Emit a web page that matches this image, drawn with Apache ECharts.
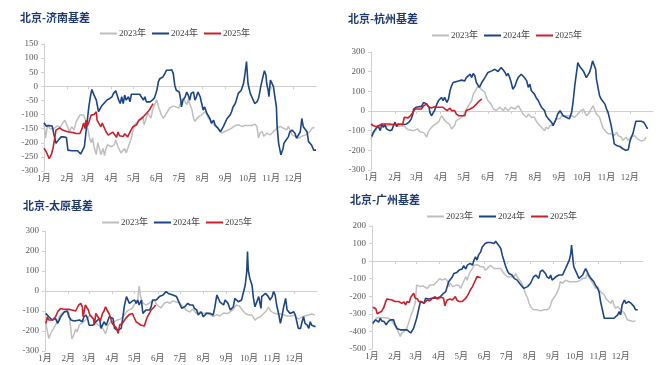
<!DOCTYPE html>
<html><head><meta charset="utf-8">
<script src="https://cdn.jsdelivr.net/npm/echarts@6/dist/echarts.min.js"></script>
<style>html,body{margin:0;padding:0;background:#fff}#c{width:660px;height:365px}</style>
</head><body><div id="c"></div>
<script>
const monthLabels = ['1月','2月','3月','4月','5月','6月','7月','8月','9月','10月','11月','12月'];
const monthStarts = [0,31,59,90,120,151,181,212,243,273,304,334];
const seriesNames = ['2023年','2024年','2025年'];
const titles = ['北京-济南基差','北京-杭州基差','北京-太原基差','北京-广州基差'];
const yRanges = [[-300,150,50],[-300,300,100],[-300,300,100],[-500,200,100]];

// 北京-济南
const jn2023 = [[0,-131],[2,-183],[5,-136],[8,-150],[13,-150],[18,-140],[22,-145],[25,-130],[28,-120],[31,-140],[34,-161],[37,-143],[40,-155],[43,-126],[48,-102],[50,-96],[53,-102],[56,-124],[58,-142],[61,-183],[63,-200],[65,-183],[67,-214],[70,-242],[72,-200],[74,-219],[76,-242],[79,-220],[81,-245],[83,-219],[85,-207],[90,-214],[94,-207],[96,-190],[99,-214],[103,-236],[108,-220],[110,-236],[112,-236],[117,-183],[121,-136],[123,-142],[128,-119],[132,-107],[134,-136],[139,-95],[143,-113],[146,-77],[148,-83],[151,-48],[153,-71],[157,-101],[160,-113],[164,-95],[168,-77],[172,-71],[175,-71],[180,-77],[184,-54],[186,-42],[191,-65],[193,-48],[198,-83],[200,-113],[202,-124],[207,-107],[211,-101],[216,-89],[220,-113],[224,-124],[229,-142],[233,-148],[238,-166],[242,-160],[247,-154],[251,-148],[256,-139],[260,-136],[265,-142],[269,-139],[274,-139],[278,-139],[282,-134],[285,-142],[287,-183],[289,-166],[292,-160],[294,-177],[298,-166],[303,-172],[307,-160],[309,-154],[312,-148],[316,-142],[320,-148],[325,-154],[327,-142],[329,-142],[332,-172],[336,-177],[341,-183],[345,-177],[350,-172],[354,-166],[359,-148],[362,-146]];
const jn2024 = [[0,-129],[3,-141],[7,-139],[11,-141],[13,-167],[16,-202],[20,-188],[23,-179],[26,-179],[30,-181],[32,-226],[37,-228],[41,-228],[45,-228],[49,-240],[51,-247],[54,-214],[57,-143],[60,-73],[62,-37],[64,-11],[67,-31],[70,-49],[73,-90],[74,-84],[77,-70],[81,-58],[84,-49],[88,-43],[91,-37],[93,-25],[96,-16],[98,-11],[100,-49],[102,-61],[104,-37],[106,-61],[108,-31],[110,-49],[113,-37],[115,-55],[117,-28],[119,-31],[124,-28],[128,-28],[130,-23],[133,-49],[135,-37],[137,-55],[139,-61],[142,-55],[145,-49],[148,-40],[151,-14],[153,16],[155,27],[159,33],[162,47],[164,57],[166,59],[168,57],[171,59],[173,45],[175,4],[177,-14],[181,-20],[183,-49],[184,-73],[186,-49],[189,-37],[191,-20],[193,-31],[195,-49],[197,-25],[200,-20],[202,-49],[204,-37],[206,-20],[209,-37],[211,-61],[213,-84],[215,-73],[218,-96],[220,-102],[222,-114],[224,-131],[227,-120],[229,-137],[231,-137],[233,-149],[236,-161],[238,-155],[240,-143],[242,-131],[245,-114],[247,-120],[249,-102],[251,-90],[253,-73],[256,-61],[258,-43],[260,-25],[262,-31],[264,-14],[267,10],[269,45],[271,88],[273,10],[276,-25],[278,-37],[280,-49],[282,-61],[285,-55],[287,-43],[288,-31],[290,-1],[292,22],[294,45],[295,55],[297,40],[298,10],[300,-14],[301,-37],[303,22],[305,17],[307,0],[309,-37],[311,-73],[312,-143],[314,-202],[317,-243],[320,-219],[321,-202],[324,-190],[327,-179],[329,-161],[332,-155],[334,-155],[336,-167],[338,-184],[340,-179],[343,-161],[345,-114],[347,-143],[349,-149],[352,-161],[354,-196],[356,-190],[358,-208],[361,-226],[364,-226]];
const jn2025 = [[0,-219],[3,-232],[7,-256],[10,-240],[12,-220],[14,-190],[16,-155],[18,-148],[21,-147],[25,-155],[30,-160],[34,-162],[39,-164],[43,-167],[48,-167],[51,-149],[53,-130],[55,-150],[56,-120],[58,-140],[60,-128],[63,-102],[65,-96],[67,-100],[70,-90],[71,-120],[73,-115],[76,-143],[78,-130],[80,-143],[83,-161],[86,-173],[88,-168],[92,-162],[95,-173],[97,-181],[99,-162],[101,-175],[103,-168],[106,-178],[108,-168],[110,-175],[112,-179],[115,-162],[119,-143],[124,-136],[127,-120],[130,-115],[133,-108],[137,-96],[141,-84],[144,-70],[146,-61]];

// 北京-杭州
const hz2023 = [[0,-142],[3,-116],[6,-100],[10,-74],[14,-66],[18,-79],[23,-74],[27,-70],[31,-66],[35,-79],[40,-75],[44,-80],[46,-91],[49,-95],[55,-100],[60,-91],[63,-105],[68,-110],[72,-133],[74,-105],[78,-83],[82,-69],[87,-57],[91,-24],[93,-32],[97,-57],[101,-66],[104,-91],[108,-74],[110,-49],[114,-40],[119,-24],[121,-7],[123,-15],[127,35],[130,52],[132,86],[136,111],[138,128],[140,128],[142,111],[147,94],[149,69],[151,52],[153,61],[155,35],[158,10],[160,19],[162,2],[164,10],[166,19],[168,10],[171,2],[173,19],[175,10],[177,2],[179,10],[181,19],[183,22],[186,10],[188,2],[190,27],[192,19],[194,2],[196,-15],[198,-24],[201,-32],[203,-15],[205,-24],[207,-32],[209,-24],[211,-32],[213,-49],[216,-66],[218,-74],[220,-83],[222,-91],[224,-100],[226,-83],[229,-91],[231,-74],[233,-66],[235,-74],[237,-57],[239,-40],[241,-49],[244,-40],[246,-24],[248,-15],[250,-24],[252,-32],[254,-24],[256,-32],[259,-24],[261,-15],[263,-32],[265,-32],[267,-15],[269,-24],[271,2],[274,10],[276,-7],[278,-24],[280,-24],[282,-7],[284,10],[287,27],[289,2],[291,-15],[293,-24],[295,-32],[297,-57],[299,-83],[302,-100],[304,-108],[306,-116],[308,-108],[310,-116],[312,-108],[314,-125],[317,-108],[319,-125],[321,-133],[323,-133],[325,-150],[327,-142],[329,-133],[332,-150],[334,-142],[336,-133],[338,-137],[340,-125],[342,-133],[344,-142],[346,-150],[349,-153],[351,-150],[353,-147],[355,-133]];
const hz2024 = [[1,-130],[3,-108],[6,-91],[9,-74],[12,-100],[14,-66],[16,-83],[18,-69],[20,-91],[24,-100],[27,-96],[29,-74],[31,-57],[33,-79],[35,-66],[37,-57],[40,-69],[43,-69],[46,-66],[49,-57],[52,-40],[54,-15],[55,10],[58,19],[60,19],[62,22],[65,22],[68,44],[72,35],[75,19],[76,-7],[78,-24],[80,-15],[82,2],[85,35],[87,52],[89,44],[91,69],[93,52],[95,69],[98,44],[100,61],[102,103],[104,128],[106,145],[108,153],[113,153],[117,157],[119,162],[121,153],[123,170],[125,179],[128,187],[130,170],[132,191],[134,179],[136,145],[138,153],[140,120],[143,145],[145,137],[147,170],[149,179],[151,196],[153,204],[156,204],[158,196],[160,212],[162,204],[164,201],[166,207],[168,221],[171,207],[173,196],[175,179],[177,191],[179,170],[181,145],[183,111],[186,128],[188,153],[190,170],[192,179],[194,187],[196,196],[198,170],[201,153],[203,120],[205,137],[207,103],[209,94],[211,86],[213,69],[216,52],[218,35],[220,19],[222,19],[224,2],[226,-24],[229,-40],[231,-49],[233,-57],[235,-74],[237,-66],[239,-40],[241,-15],[244,2],[246,-7],[248,-24],[250,-15],[252,-32],[254,-32],[256,-40],[259,-7],[261,52],[263,128],[265,187],[267,246],[269,229],[271,221],[274,204],[276,196],[278,170],[280,170],[282,196],[284,221],[286,255],[287,246],[290,212],[291,162],[293,120],[295,78],[297,61],[299,52],[302,35],[304,10],[306,-7],[308,-40],[310,-74],[312,-116],[314,-167],[317,-175],[319,-184],[321,-180],[323,-184],[325,-192],[327,-192],[329,-200],[332,-197],[334,-158],[336,-133],[338,-116],[340,-116],[341,-66],[342,-52],[344,-52],[349,-52],[352,-57],[354,-69],[357,-91]];
const hz2025 = [[0,-66],[3,-75],[5,-83],[8,-80],[10,-74],[14,-66],[16,-70],[18,-66],[20,-57],[24,-66],[28,-69],[33,-69],[37,-69],[41,-66],[43,-32],[45,-24],[48,-35],[50,-30],[52,-20],[54,-7],[57,10],[59,2],[61,10],[63,5],[65,10],[68,27],[70,20],[72,35],[74,22],[76,22],[78,15],[80,19],[82,22],[85,19],[87,22],[89,19],[91,15],[93,19],[95,19],[98,2],[100,10],[102,15],[104,2],[106,-7],[108,2],[110,-15],[113,-24],[115,-32],[117,-24],[119,-15],[121,-24],[123,2],[125,-7],[128,10],[130,2],[132,19],[134,19],[136,35],[138,44],[140,52],[143,61]];

// 北京-太原
const ty2023 = [[1,-160],[5,-237],[8,-210],[14,-171],[19,-130],[23,-110],[28,-104],[32,-110],[34,-171],[36,-240],[39,-215],[41,-190],[43,-204],[46,-170],[50,-160],[52,-154],[57,-135],[61,-120],[65,-140],[68,-160],[74,-179],[78,-190],[81,-215],[84,-175],[88,-154],[92,-154],[97,-145],[102,-138],[106,-120],[110,-100],[114,-92],[117,-85],[121,-60],[124,-45],[126,25],[128,-30],[131,-60],[135,-70],[139,-62],[142,-55],[146,-45],[150,-70],[155,-85],[160,-60],[164,-55],[167,-62],[171,-50],[176,-55],[180,-60],[185,-80],[189,-95],[194,-105],[198,-90],[202,-112],[207,-105],[212,-112],[216,-108],[221,-118],[225,-128],[230,-118],[234,-125],[239,-110],[245,-112],[251,-95],[256,-70],[258,-60],[260,-75],[265,-100],[269,-115],[273,-120],[277,-120],[281,-146],[284,-135],[288,-130],[292,-115],[296,-100],[299,-80],[302,-100],[306,-110],[311,-115],[315,-115],[320,-120],[324,-125],[330,-125],[333,-120],[337,-135],[340,-140],[344,-130],[348,-125],[352,-120],[357,-115],[361,-120]];
const ty2024 = [[1,-112],[3,-112],[5,-129],[10,-145],[14,-137],[17,-162],[21,-129],[26,-104],[30,-100],[32,-129],[35,-145],[39,-150],[46,-145],[50,-154],[52,-129],[55,-120],[57,-137],[59,-171],[64,-171],[68,-154],[73,-137],[75,-187],[79,-154],[82,-171],[86,-129],[91,-137],[93,-187],[97,-196],[102,-187],[104,-137],[106,-79],[109,-28],[111,-37],[113,-62],[115,-54],[117,-50],[120,-45],[122,-62],[124,-45],[126,-70],[129,-45],[131,-112],[133,-112],[135,-95],[140,-95],[142,-79],[144,-45],[149,-45],[153,-28],[158,-20],[162,-3],[165,-12],[167,-12],[171,-20],[176,-28],[180,-62],[183,-87],[187,-79],[191,-62],[194,-70],[196,-79],[198,-70],[200,-87],[203,-95],[205,-120],[207,-112],[209,-104],[212,-129],[214,-120],[216,-112],[218,-112],[221,-112],[225,-120],[227,-87],[230,-20],[232,-37],[234,-54],[236,-62],[239,-70],[241,-45],[243,-37],[245,-62],[248,-95],[250,-104],[252,-79],[254,-37],[256,-45],[259,-54],[261,-62],[263,-45],[265,-37],[268,30],[270,97],[271,197],[272,105],[274,64],[277,30],[279,-37],[281,-79],[283,-87],[286,-28],[288,-37],[289,-87],[290,-28],[292,-20],[295,-12],[297,-3],[299,-28],[301,-45],[304,-28],[306,-3],[308,-20],[310,-70],[313,-120],[315,-162],[317,-129],[319,-87],[322,-37],[324,-95],[326,-104],[328,-112],[330,-104],[333,-104],[335,-120],[337,-154],[339,-187],[342,-187],[344,-154],[346,-129],[348,-162],[351,-171],[353,-187],[355,-154],[357,-171],[362,-179]];
const ty2025 = [[1,-162],[2,-150],[3,-129],[5,-145],[7,-140],[10,-145],[14,-129],[17,-104],[21,-87],[24,-90],[27,-92],[32,-92],[36,-95],[41,-100],[43,-105],[45,-70],[48,-62],[50,-80],[51,-129],[53,-90],[54,-70],[56,-62],[58,-95],[60,-120],[62,-125],[65,-140],[66,-171],[68,-112],[71,-130],[74,-150],[77,-112],[79,-100],[81,-79],[83,-95],[86,-115],[88,-125],[90,-162],[92,-165],[96,-187],[98,-212],[100,-170],[102,-180],[104,-160],[106,-150],[108,-137],[110,-137],[113,-117],[115,-125],[117,-112],[119,-130],[122,-154],[124,-160],[128,-170],[133,-175],[135,-150],[137,-129],[140,-110],[142,-95],[146,-80],[148,-70]];

// 北京-广州
const gz2023 = [[1,-362],[3,-340],[6,-325],[9,-320],[13,-322],[18,-322],[22,-325],[26,-335],[30,-362],[34,-391],[36,-409],[38,-428],[40,-410],[43,-400],[47,-380],[50,-340],[53,-300],[55,-280],[58,-240],[60,-136],[62,-130],[65,-145],[68,-140],[70,-145],[74,-155],[78,-136],[83,-136],[87,-117],[91,-100],[94,-108],[96,-117],[98,-100],[101,-110],[103,-145],[105,-125],[108,-145],[110,-155],[114,-136],[117,-140],[119,-155],[121,-136],[123,-117],[126,-89],[128,-108],[130,-79],[132,-60],[135,-42],[137,-23],[139,-32],[141,-20],[143,-23],[146,-32],[148,-23],[150,-32],[152,-51],[155,-42],[157,-32],[159,-23],[161,-32],[164,-42],[166,-51],[168,-42],[170,-32],[173,-42],[175,-51],[177,-70],[179,-79],[182,-89],[184,-98],[186,-89],[188,-98],[191,-89],[193,-70],[195,-89],[197,-98],[200,-117],[202,-136],[204,-155],[206,-183],[209,-211],[211,-240],[213,-259],[215,-268],[217,-277],[222,-277],[226,-283],[231,-277],[233,-287],[235,-277],[238,-268],[240,-249],[242,-221],[244,-211],[247,-192],[249,-183],[251,-155],[253,-117],[256,-126],[258,-117],[260,-108],[262,-117],[265,-117],[267,-117],[271,-117],[276,-117],[280,-108],[283,-98],[285,-89],[287,-98],[289,-70],[291,-89],[294,-108],[296,-117],[298,-136],[300,-155],[303,-145],[305,-164],[307,-174],[309,-183],[312,-192],[314,-211],[316,-221],[318,-230],[321,-240],[323,-221],[325,-249],[327,-268],[330,-259],[332,-268],[334,-277],[336,-287],[339,-296],[341,-315],[343,-334],[345,-343],[350,-343],[352,-334],[354,-340]];
const gz2024 = [[1,-353],[3,-343],[5,-334],[9,-347],[11,-325],[13,-340],[16,-343],[19,-362],[22,-343],[25,-334],[29,-334],[31,-362],[34,-385],[38,-391],[43,-391],[47,-391],[52,-409],[54,-415],[56,-381],[60,-325],[63,-268],[65,-230],[67,-221],[70,-240],[72,-211],[74,-221],[76,-215],[78,-211],[81,-211],[83,-202],[87,-211],[92,-202],[96,-183],[99,-174],[101,-145],[103,-117],[105,-108],[108,-89],[110,-70],[112,-70],[114,-64],[117,-51],[119,-51],[121,-45],[123,-26],[126,-45],[128,-23],[130,-32],[132,-13],[135,-23],[137,6],[139,25],[141,6],[143,34],[146,53],[148,81],[150,91],[152,100],[155,106],[157,100],[159,106],[161,109],[164,100],[166,113],[168,109],[170,91],[173,72],[175,34],[177,6],[179,-23],[182,-57],[184,-70],[186,-60],[188,-79],[191,-98],[193,-89],[195,-108],[197,-117],[200,-136],[202,-145],[204,-155],[206,-151],[209,-145],[211,-136],[213,-126],[215,-117],[217,-89],[220,-79],[222,-89],[224,-98],[226,-60],[229,-51],[231,-51],[233,-70],[235,-89],[238,-98],[240,-79],[242,-108],[244,-100],[247,-89],[249,-89],[251,-79],[253,-70],[256,-79],[258,-60],[260,-42],[262,-23],[265,6],[267,43],[268,91],[270,6],[271,-32],[274,-60],[276,-79],[278,-98],[280,-108],[283,-79],[285,-60],[287,-42],[289,-60],[291,-79],[294,-98],[296,-108],[298,-117],[300,-136],[303,-155],[305,-174],[307,-230],[309,-268],[312,-325],[314,-334],[316,-325],[321,-325],[325,-325],[327,-315],[330,-306],[332,-287],[334,-306],[336,-249],[339,-221],[341,-240],[343,-240],[345,-230],[348,-240],[350,-249],[352,-259],[354,-277],[357,-277]];
const gz2025 = [[1,-262],[3,-255],[5,-270],[7,-300],[10,-292],[13,-285],[16,-262],[18,-235],[20,-215],[22,-221],[27,-221],[31,-230],[36,-230],[40,-240],[43,-232],[45,-249],[47,-230],[50,-235],[52,-205],[54,-198],[56,-183],[58,-210],[61,-215],[63,-230],[65,-236],[67,-230],[70,-240],[72,-230],[74,-221],[76,-215],[78,-225],[81,-211],[83,-215],[85,-202],[87,-215],[89,-221],[92,-205],[94,-198],[96,-210],[98,-255],[99,-240],[101,-221],[103,-228],[105,-215],[108,-221],[110,-211],[112,-202],[114,-221],[117,-230],[119,-240],[121,-230],[123,-221],[126,-211],[128,-198],[130,-183],[132,-164],[135,-145],[137,-126],[139,-108],[141,-88],[143,-79],[146,-95]];

const panelData = [[jn2023,jn2024,jn2025],[hz2023,hz2024,hz2025],[ty2023,ty2024,ty2025],[gz2023,gz2024,gz2025]];
const days = Array.from({length:365},(_, i)=>String(i));

// layout
const grids = [
  {left:44, top:44, width:272, height:127},
  {left:371, top:52, width:282, height:118},
  {left:45, top:231, width:272, height:120},
  {left:372, top:226, width:271, height:123}
];
const titlePos = [[20,12],[348,13],[23,200],[350,194]];
const legendPos = [[100,29],[432,31],[102,218],[427,212]];
const colors = ['#BFBFBF','#1B4586','#CC1F2A'];
const widths = [1.5,1.6,1.6];
const axisGray = '#D0D0D0';
const labelGray = '#595959';
const isMonth = (i) => monthStarts.indexOf(i) >= 0;

const option = {animation:false, backgroundColor:'#fff',
  title:[], legend:[], grid:[], xAxis:[], yAxis:[], series:[]};

grids.forEach((g, p) => {
  option.grid.push(Object.assign({containLabel:false}, g));
  option.title.push({text:titles[p], left:titlePos[p][0], top:titlePos[p][1], padding:0,
    textStyle:{fontFamily:'Noto Sans CJK SC', fontSize:11, fontWeight:'bold', color:'#1F3A70'}});
  option.legend.push({data:seriesNames, left:legendPos[p][0], top:legendPos[p][1], padding:0,
    itemWidth:17, itemHeight:2, itemGap:6, icon:'rect',
    textStyle:{fontFamily:'Liberation Serif, Noto Sans CJK SC', fontSize:9, color:'#404040', padding:[0,0,0,-3]}});
  // labelled x axis (bottom)
  option.xAxis.push({type:'category', gridIndex:p, data:days, boundaryGap:false, position:'bottom',
    axisLine:{show:false, onZero:false}, axisTick:{show:false},
    axisLabel:{interval:(i)=>isMonth(i), formatter:(v,i)=>monthLabels[monthStarts.indexOf(Number(v))],
      fontFamily:'Liberation Serif, Noto Sans CJK SC', fontSize:9, color:labelGray, margin:3},
    splitLine:{show:false}});
  // zero-line x axis with ticks
  option.xAxis.push({type:'category', gridIndex:p, data:days, boundaryGap:false, position:'bottom',
    axisLine:{show:true, onZero:true, lineStyle:{color:axisGray, width:1}},
    axisTick:{show:true, interval:(i)=>isMonth(i), length:3, lineStyle:{color:axisGray}},
    axisLabel:{show:false}, splitLine:{show:false}});
  const r = yRanges[p];
  option.yAxis.push({type:'value', gridIndex:p, min:r[0], max:r[1], interval:r[2],
    axisLine:{show:true, onZero:false, lineStyle:{color:axisGray}},
    axisTick:{show:true, length:3, lineStyle:{color:axisGray}},
    axisLabel:{fontFamily:'Liberation Serif', fontSize:9, color:labelGray, margin:6},
    splitLine:{show:false}});
  panelData[p].forEach((d, k) => {
    option.series.push({type:'line', name:seriesNames[k], xAxisIndex:p*2, yAxisIndex:p,
      data:d, symbol:'none', showSymbol:false, z:2+k,
      lineStyle:{color:colors[k], width:widths[k]}, itemStyle:{color:colors[k]}});
  });
});

const chart = echarts.init(document.getElementById('c'), null, {renderer:'canvas'});
chart.setOption(option);
</script></body></html>
